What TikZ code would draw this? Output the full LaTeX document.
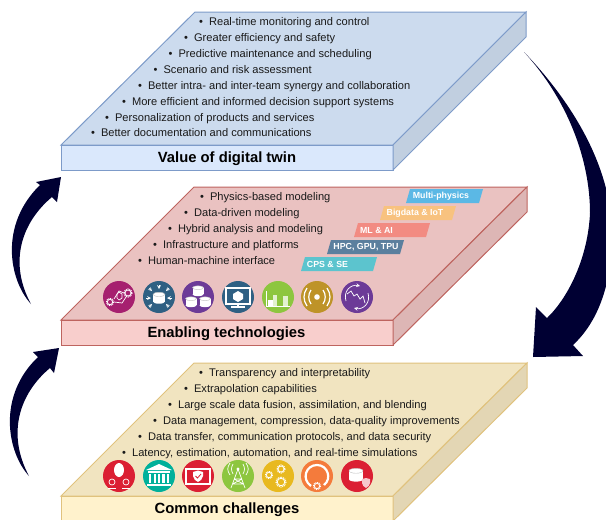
\documentclass[tikz,border=0pt]{standalone}
\usepackage{fontspec}
\setmainfont{Liberation Sans}
\definecolor{arrowblue}{HTML}{000033}
\definecolor{mypink}{HTML}{A6206F}
\definecolor{myblue}{HTML}{2F6083}
\definecolor{mypurple}{HTML}{6C3A97}
\definecolor{mygreen}{HTML}{8DC63F}
\definecolor{mygold}{HTML}{BE9328}
\definecolor{myred}{HTML}{DB1F33}
\definecolor{myteal}{HTML}{00B09B}
\definecolor{myyellow}{HTML}{E8B91F}
\definecolor{myorange}{HTML}{F47B3C}
\definecolor{blueedge}{HTML}{7D9BC9}
\definecolor{rededge}{HTML}{BE645F}
\definecolor{yellowedge}{HTML}{E0C27D}
\tikzset{
  item/.style={anchor=base west,inner sep=0pt,font=\fontsize{11.1}{13}\selectfont,text=black!90},
  title/.style={anchor=center,inner sep=0pt,font=\fontsize{14.8}{17}\selectfont\bfseries},
  tag/.style={anchor=center,inner sep=0pt,text=white,font=\fontsize{8.8}{10}\selectfont\bfseries},
  badge/.style={circle,minimum size=32pt,inner sep=0pt},
  edge/.style={line width=1pt,line join=miter},
  thin glyph/.style={draw=white,line width=.7pt,fill=none},
  thick glyph/.style={draw=white,line width=1.2pt,fill=none},
  drum/.pic={
    \fill[white] (-#1,-#1*.6) rectangle (#1,#1*.6);
    \fill[white] (0,#1*.6) ellipse ({#1} and {#1*.35});
    \draw[gray!50,fill=white,line width=.4pt] (0,-#1*.6) ellipse ({#1} and {#1*.35});
  },
  cog/.pic={
    \draw[white,line width=1.2pt,dash pattern=on .9pt off .9pt] (0,0) circle (#1);
    \draw[white,line width=.8pt] (0,0) circle (#1*.75);
  },
}
\begin{document}
\begin{tikzpicture}[x=1pt,y=-1pt]
\useasboundingbox (0,0) rectangle (606,520);
% top slab
\draw[edge,draw=blueedge,fill={rgb,255:red,204;green,219;blue,238}] (195,12) -- (526,12) -- (393,145) -- (61,145) -- cycle;
\draw[edge,draw=blueedge,fill={rgb,255:red,218;green,232;blue,252}] (61,145) rectangle (393,170);
\draw[edge,draw=blueedge,fill={rgb,255:red,193;green,207;blue,224}] (526,12) -- (526,37) -- (393,170) -- (393,145) -- cycle;
% middle slab
\draw[edge,draw=rededge,fill={rgb,255:red,234;green,194;blue,193}] (194,187) -- (527,187) -- (393,320) -- (61,320) -- cycle;
\draw[edge,draw=rededge,fill={rgb,255:red,248;green,206;blue,204}] (61,320) rectangle (393,345);
\draw[edge,draw=rededge,fill={rgb,255:red,221;green,182;blue,181}] (527,187) -- (527,212) -- (393,345) -- (393,320) -- cycle;
% bottom slab
\draw[edge,draw=yellowedge,fill={rgb,255:red,241;green,228;blue,192}] (194,363) -- (527,363) -- (393,496) -- (61,496) -- cycle;
\draw[edge,draw=yellowedge,fill={rgb,255:red,255;green,242;blue,204}] (61,496) rectangle (393,521);
\draw[edge,draw=yellowedge,fill={rgb,255:red,227;green,214;blue,180}] (527,363) -- (527,388) -- (393,521) -- (393,496) -- cycle;
% arrows
\fill[arrowblue] (31,304) .. controls (9,280) and (-1,225) .. (40,185) -- (36,182) -- (61,177) -- (57,202) -- (52,197) .. controls (22,222) and (8,262) .. (31,304) -- cycle;
\fill[arrowblue] (29,476) .. controls (7,452) and (-3,396) .. (38,357) -- (33,352) -- (59,348) -- (54,373) -- (50,368) .. controls (20,393) and (6,433) .. (29,476) -- cycle;
\fill[arrowblue] (524,52) .. controls (570,100) and (612,165) .. (612,235) .. controls (612,280) and (600,320) .. (573,345) -- (583,356) -- (533,357) -- (536,307) -- (547,318) .. controls (568,298) and (588,258) .. (590,213) .. controls (590,160) and (568,100) .. (524,52) -- cycle;
% value list
\node[item] (val1) at (199,25) {\textbullet\hspace{6pt}Real-time monitoring and control};
\node[item] (val2) at (184,41) {\textbullet\hspace{6pt}Greater efficiency and safety};
\node[item] (val3) at (168.5,57) {\textbullet\hspace{6pt}Predictive maintenance and scheduling};
\node[item] (val4) at (153.5,73) {\textbullet\hspace{6pt}Scenario and risk assessment};
\node[item] (val5) at (138,89) {\textbullet\hspace{6pt}Better intra- and inter-team synergy and collaboration};
\node[item] (val6) at (122,105) {\textbullet\hspace{6pt}More efficient and informed decision support systems};
\node[item] (val7) at (105,121) {\textbullet\hspace{6pt}Personalization of products and services};
\node[item] (val8) at (91,136) {\textbullet\hspace{6pt}Better documentation and communications};
\node[title] (valtitle) at (227,159) {Value of digital twin};
% enabling list
\node[item] (en1) at (200,200) {\textbullet\hspace{6pt}Physics-based modeling};
\node[item] (en2) at (184,216) {\textbullet\hspace{6pt}Data-driven modeling};
\node[item] (en3) at (168,232) {\textbullet\hspace{6pt}Hybrid analysis and modeling};
\node[item] (en4) at (153,248) {\textbullet\hspace{6pt}Infrastructure and platforms};
\node[item] (en5) at (138,264) {\textbullet\hspace{6pt}Human-machine interface};
\node[title] (entitle) at (226.5,334) {Enabling technologies};
% tags
\fill[fill={rgb,255:red,91;green,184;blue,229}] (410,189) -- (483,189) -- (479,203) -- (406,203) -- cycle;
\fill[fill={rgb,255:red,248;green,194;blue,127}] (384,206) -- (456,206) -- (452,220) -- (380,220) -- cycle;
\fill[fill={rgb,255:red,242;green,139;blue,130}] (358,223) -- (430,223) -- (426,237) -- (354,237) -- cycle;
\fill[fill={rgb,255:red,91;green,127;blue,158}] (331,240) -- (404,240) -- (400,254) -- (327,254) -- cycle;
\fill[fill={rgb,255:red,92;green,196;blue,206}] (305,257) -- (377,257) -- (373,271) -- (301,271) -- cycle;
\node[tag] (physics) at (441,196) {Multi-physics};
\node[tag] (bigdata) at (415,213) {Bigdata \& IoT};
\node[tag] (mlai) at (376.5,230) {ML \& AI};
\node[tag] (hpc) at (366,247) {HPC, GPU, TPU};
\node[tag] (cps) at (327.5,264) {CPS \& SE};
% enabling icons
\node[badge,fill=mypink] (en icon1) at (119,297) {};
\node[badge,fill=myblue] (en icon2) at (159,297) {};
\node[badge,fill=mypurple] (en icon3) at (198,297) {};
\node[badge,fill=myblue] (en icon4) at (238,297) {};
\node[badge,fill=mygreen] (en icon5) at (278,297) {};
\node[badge,fill=mygold] (en icon6) at (317,297) {};
\node[badge,fill=mypurple] (en icon7) at (357,297) {};
\begin{scope}[shift={(119,297)}]
\pic at (-9,5) {cog=3.5}; \pic at (9,-4) {cog=4};
\draw[thin glyph] (-5,2) -- (0,-6) -- (5,-4) (-5,5) -- (3,6) -- (7,0);
\draw[thin glyph] (-2,-3) -- (0,-5) -- (3,-3) -- (3,1) -- (0,3) -- (-2,1) -- cycle;
\end{scope}
\begin{scope}[shift={(159,297)}]
\pic at (0,1) {drum=6};
\draw[thin glyph,-stealth] (-13,1) -- (-8,1); \draw[thin glyph,-stealth] (13,1) -- (8,1);
\draw[thin glyph,-stealth] (0,-12) -- (0,-8); \draw[thin glyph,-stealth] (-10,-9) -- (-7,-6); \draw[thin glyph,-stealth] (10,-9) -- (7,-6);
\draw[thin glyph,-stealth] (-10,10) -- (-7,7); \draw[thin glyph,-stealth] (10,10) -- (7,7);
\end{scope}
\begin{scope}[shift={(198,297)}]
\pic at (0,-6) {drum=5.5}; \pic at (-7,5) {drum=5.5}; \pic at (7,5) {drum=5.5};
\end{scope}
\begin{scope}[shift={(238,297)}]
\draw[thick glyph] (-12,-9) rectangle (12,7);
\draw[thick glyph] (-7,10) -- (7,10); \draw[thick glyph] (0,7) -- (0,10);
\fill[white] (0,-6) -- (5,-3) -- (5,2) -- (0,5) -- (-5,2) -- (-5,-3) -- cycle;
\end{scope}
\begin{scope}[shift={(278,297)}]
\fill[white!75!mygreen] (-5,-2) rectangle (-1,9); \fill[white!75!mygreen] (5,-1) rectangle (10,9);
\draw[thin glyph] (-12,-6) -- (-12,9) -- (12,9);
\draw[thin glyph] (-10,3) rectangle (-6,9);
\fill[white] (-10,4) rectangle (-6,9);
\end{scope}
\begin{scope}[shift={(317,297)}]
\fill[white] (0,0) circle (2.8);
\draw[thick glyph] (-6,-7) .. controls (-9,-3) and (-9,3) .. (-6,7);
\draw[thick glyph] (6,-7) .. controls (9,-3) and (9,3) .. (6,7);
\draw[thick glyph] (-10,-9) .. controls (-14,-3) and (-14,3) .. (-10,9);
\draw[thick glyph] (10,-9) .. controls (14,-3) and (14,3) .. (10,9);
\end{scope}
\begin{scope}[shift={(357,297)}]
\draw[thin glyph,-stealth] (-11,4) .. controls (-14,-6) and (-6,-13) .. (3,-11);
\draw[thin glyph,-stealth] (11,-4) .. controls (14,6) and (6,13) .. (-3,11);
\draw[thin glyph] (-10,-3) -- (-6,-6) -- (-3,-1) -- (0,-3) -- (3,2) -- (6,-1) -- (8,6);
\end{scope}
% challenges list
\node[item] (ch1) at (199,376) {\textbullet\hspace{6pt}Transparency and interpretability};
\node[item] (ch2) at (184,392) {\textbullet\hspace{6pt}Extrapolation capabilities};
\node[item] (ch3) at (168,408) {\textbullet\hspace{6pt}Large scale data fusion, assimilation, and blending};
\node[item] (ch4) at (153,424) {\textbullet\hspace{6pt}Data management, compression, data-quality improvements};
\node[item] (ch5) at (138,440) {\textbullet\hspace{6pt}Data transfer, communication protocols, and data security};
\node[item] (ch6) at (122,456) {\textbullet\hspace{6pt}Latency, estimation, automation, and real-time simulations};
\node[title] (chtitle) at (227,510) {Common challenges};
% challenges icons
\node[badge,fill=myred] (ch icon1) at (119,476) {};
\node[badge,fill=myteal] (ch icon2) at (159,476) {};
\node[badge,fill=myred] (ch icon3) at (198,476) {};
\node[badge,fill=mygreen] (ch icon4) at (238,476) {};
\node[badge,fill=myyellow] (ch icon5) at (278,476) {};
\node[badge,fill=myorange] (ch icon6) at (317,476) {};
\node[badge,fill=myred] (ch icon7) at (357,476) {};
\begin{scope}[shift={(119,476)}]
\fill[white] (0,-6) ellipse (5 and 7);
\draw[thin glyph] (-7,6) circle (3); \draw[thin glyph] (7,6) circle (3);
\draw[thin glyph] (-11,12) -- (-3,12) (3,12) -- (11,12);
\end{scope}
\begin{scope}[shift={(159,476)}]
\fill[white] (-13,-6) -- (0,-12) -- (13,-6) -- cycle;
\fill[white] (-11,-5) rectangle (11,-3); \fill[white] (-12,8) rectangle (12,10);
\fill[white] (-10,-2) rectangle (-8,7); \fill[white] (-5.5,-2) rectangle (-3,7); \fill[white] (-1,-2) rectangle (1,7); \fill[white] (3,-2) rectangle (5.5,7); \fill[white] (8,-2) rectangle (10,7);
\end{scope}
\begin{scope}[shift={(198,476)}]
\draw[white,line width=1.6pt] (-12,-7) rectangle (12,8);
\fill[white] (-5,-4) -- (0,-5.5) -- (5,-4) -- (5,0) .. controls (5,3) and (2,5) .. (0,6) .. controls (-2,5) and (-5,3) .. (-5,0) -- cycle;
\draw[myred,line width=.8pt] (-2.5,0) -- (-.5,2) -- (3,-2);
\end{scope}
\begin{scope}[shift={(238,476)}]
\draw[thin glyph] (0,-7) -- (-7,12) (0,-7) -- (7,12) (-4,3) -- (4,3) (-5.5,8) -- (5.5,8) (-4,3) -- (5.5,8) (4,3) -- (-5.5,8);
\fill[white] (0,-7) circle (1.6);
\draw[thin glyph] (-5,-12) .. controls (-7,-8) and (-7,-6) .. (-5,-2);
\draw[thin glyph] (5,-12) .. controls (7,-8) and (7,-6) .. (5,-2);
\draw[thin glyph] (-8,-13) .. controls (-11,-8) and (-11,-6) .. (-8,-1);
\draw[thin glyph] (8,-13) .. controls (11,-8) and (11,-6) .. (8,-1);
\end{scope}
\begin{scope}[shift={(278,476)}]
\pic at (-9,-1) {cog=3.5}; \pic at (3,-7) {cog=4}; \pic at (3,6) {cog=5};
\end{scope}
\begin{scope}[shift={(317,476)}]
\draw[white,line width=2.2pt] (-6,10) .. controls (-16,3) and (-11,-11) .. (0,-11) .. controls (11,-11) and (15,3) .. (7,9);
\pic at (0,10) {cog=3.5};
\end{scope}
\begin{scope}[shift={(357,476)}]
\pic at (-1,-1) {drum=7};
\fill[white!75!myred] (5,3) -- (9,2) -- (13,3) -- (13,7) .. controls (13,9) and (11,11) .. (9,12) .. controls (7,11) and (5,9) .. (5,7) -- cycle;
\end{scope}
\end{tikzpicture}
\end{document}
